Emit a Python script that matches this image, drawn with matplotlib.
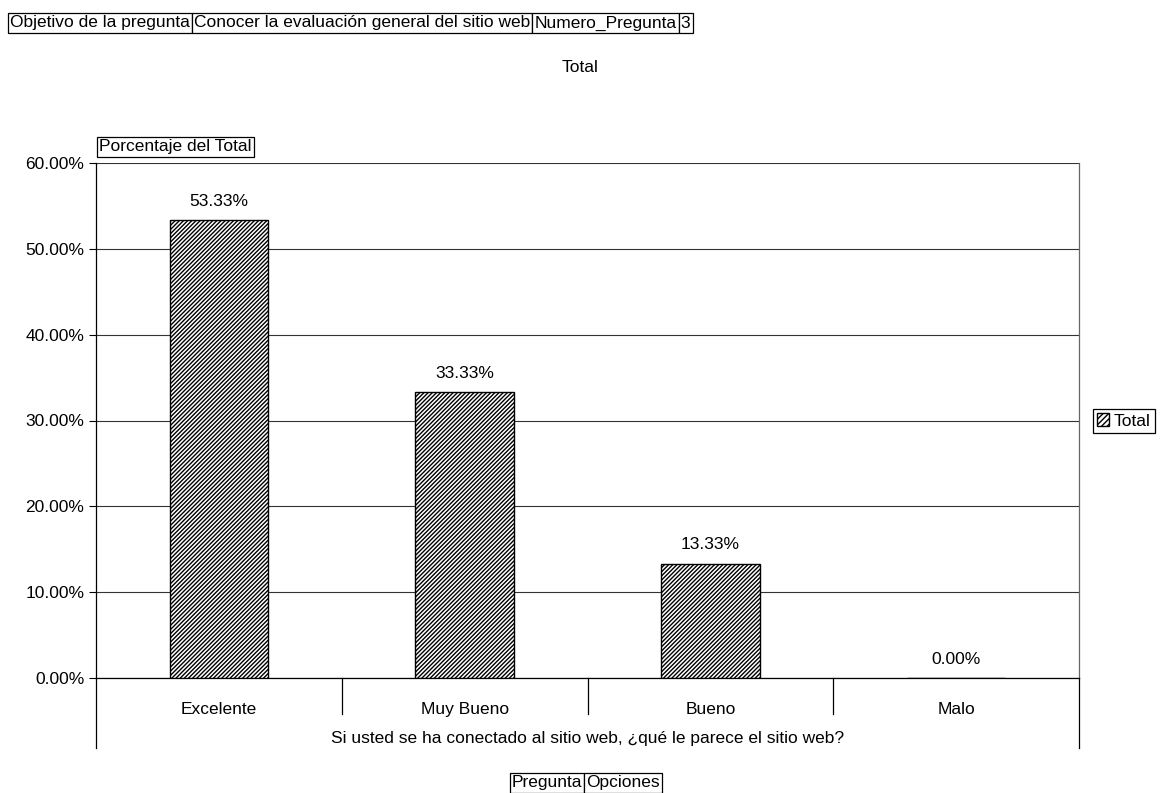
import matplotlib.pyplot as plt
from matplotlib.lines import Line2D
from matplotlib.ticker import FuncFormatter

plt.rcParams['font.family'] = ['Liberation Sans', 'DejaVu Sans']
plt.rcParams['hatch.linewidth'] = 1.0

# ----------- Datos -----------
categorias = ['Excelente', 'Muy Bueno', 'Bueno', 'Malo']
porcentajes = [53.33, 33.33, 13.33, 0.00]
encabezado = ['Objetivo de la pregunta', 'Conocer la evaluación general del sitio web',
              'Numero_Pregunta', '3']
pie = ['Pregunta', 'Opciones']

FS = 12.5

fig = plt.figure(figsize=(11.61, 7.93), dpi=100)
ax = fig.add_axes([96 / 1161, 115 / 793, 983 / 1161, 515 / 793])

x = list(range(len(categorias)))
ax.bar(x, porcentajes, width=0.4, color='white', edgecolor='black', hatch='////////',
       linewidth=1.0, zorder=3)

for xi, v in zip(x, porcentajes):
    ax.text(xi, v + 1.3, f'{v:.2f}%', ha='center', va='bottom', fontsize=FS)

ax.set_xlim(-0.5, len(categorias) - 0.5)
ax.set_ylim(0, 60)
ax.set_yticks(range(0, 61, 10))
ax.yaxis.set_major_formatter(FuncFormatter(lambda v, p: f'{v:.2f}%'))
ax.tick_params(axis='y', labelsize=FS, length=5, direction='out', width=0.8)
ax.tick_params(axis='x', length=0, labelsize=FS, pad=17)
ax.set_xticks(x)
ax.set_xticklabels(categorias)
ax.grid(axis='y', color='#333333', linewidth=0.8, zorder=0)
for s in ax.spines.values():
    s.set_linewidth(0.9)
ax.spines['right'].set_color('#666666')
ax.spines['top'].set_visible(False)

# separadores de categorías bajo el eje
n = len(categorias)
for i in range(n + 1):
    largo = 70 / 515 if i in (0, n) else 36 / 515
    ax.add_line(Line2D([i / n, i / n], [0, -largo], transform=ax.transAxes,
                       color='black', linewidth=0.9, clip_on=False))

ax.text(0.5, -60 / 515, 'Si usted se ha conectado al sitio web, ¿qué le parece el sitio web?',
        transform=ax.transAxes, ha='center', va='center', fontsize=FS)

fig.text(580 / 1161, 1 - 68 / 793, 'Total', ha='center', va='center', fontsize=FS)

caja = dict(boxstyle='square,pad=0.12', facecolor='white', edgecolor='black', linewidth=0.9)
fig.text(99 / 1161, 1 - 147 / 793, 'Porcentaje del Total', ha='left', va='center',
         fontsize=FS, bbox=caja)

# fila de encabezado y pie como celdas contiguas
fig.canvas.draw()
rend = fig.canvas.get_renderer()


def fila(textos, x0, y, ha='left'):
    objs = [fig.text(0, y, t, ha='left', va='center', fontsize=FS, bbox=caja) for t in textos]
    anchos = [o.get_window_extent(rend).width for o in objs]
    pad = FS * 100 / 72 * 0.12 * 2
    total = sum(anchos) + pad * len(anchos)
    xs = x0 if ha == 'left' else x0 - total / 2
    for o, w in zip(objs, anchos):
        o.set_x((xs + pad / 2) / 1161)
        xs += w + pad


fila(encabezado, 8, 1 - 23 / 793)
fila(pie, 586, 1 - 783 / 793, ha='center')

leg = fig.legend(handles=[plt.Rectangle((0, 0), 1, 1, facecolor='white', edgecolor='black',
                                        hatch='//////')],
                 labels=['Total'], loc='center', bbox_to_anchor=(1124 / 1161, 1 - 421 / 793),
                 fontsize=FS, handlelength=0.7, handleheight=0.7, handletextpad=0.25,
                 borderpad=0.25, fancybox=False, framealpha=1, borderaxespad=0)
leg.get_frame().set_edgecolor('black')
leg.get_frame().set_linewidth(0.9)

fig.savefig('out.png', dpi=100)
